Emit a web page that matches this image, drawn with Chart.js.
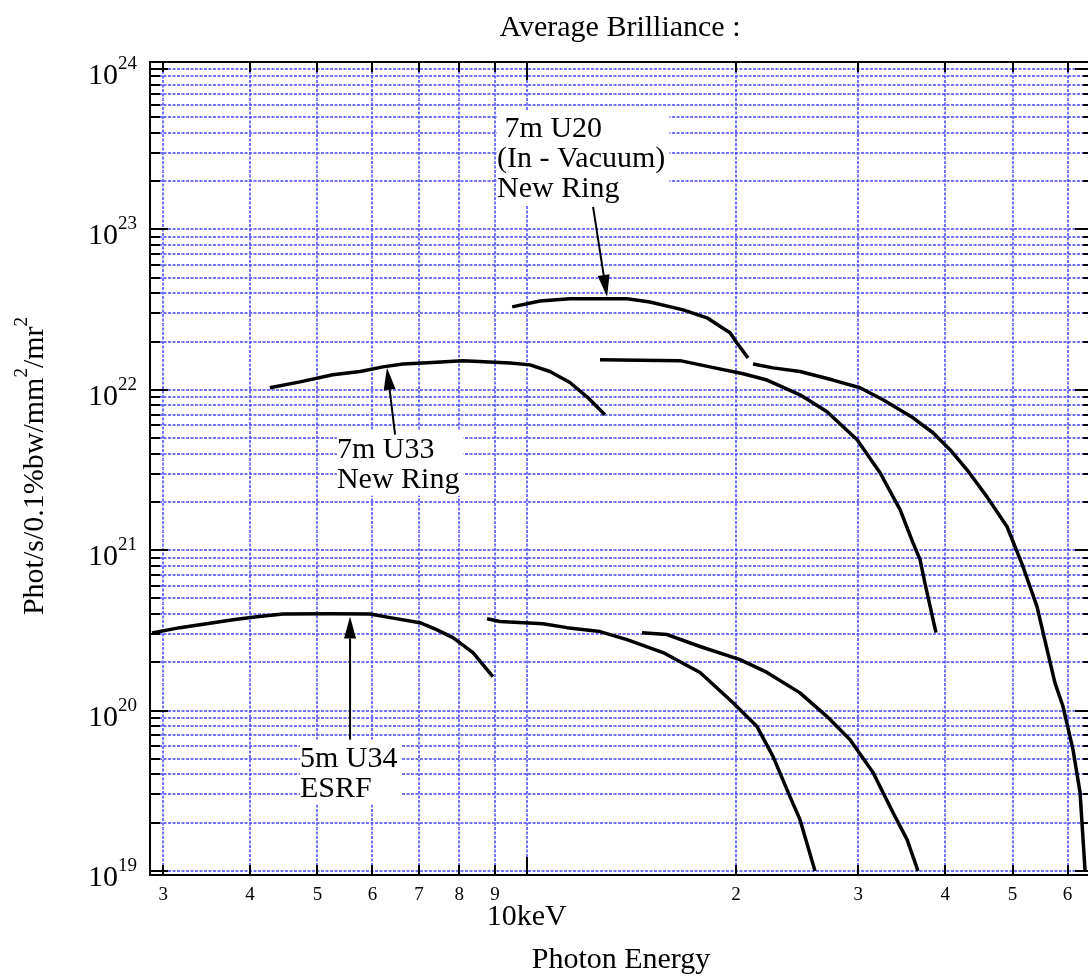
<!DOCTYPE html>
<html>
<head>
<meta charset="utf-8">
<title>Average Brilliance</title>
<script src="https://cdn.jsdelivr.net/npm/chart.js@4.4.1/dist/chart.umd.min.js"></script>
<style>
  html, body { margin: 0; padding: 0; background: #fff; overflow: hidden; }
  canvas { display: block; }
</style>
</head>
<body>
<canvas id="chart" width="1100" height="977"></canvas>
<script>
// ---- Undulator brilliance curves: photon energy (keV) vs average brilliance ----
// 5m U34, ESRF: fundamental, 3rd and 5th harmonic
const esrfU34H1Energy = [2.89, 3.17, 3.54, 3.78, 4.09, 4.46, 5.21, 5.95, 6.36, 7.02, 7.42, 7.83, 8.37, 8.94];
const esrfU34H1Bril   = [3.05e20, 3.29e20, 3.53e20, 3.69e20, 3.85e20, 4.0e20, 4.02e20, 4.0e20, 3.8e20, 3.53e20, 3.2e20, 2.85e20, 2.3e20, 1.63e20];
const esrfU34H3Energy = [8.77, 9.15, 10.55, 11.43, 12.75, 13.94, 15.71, 17.76, 19.81, 21.45, 22.62, 23.92, 24.73, 25.99];
const esrfU34H3Bril   = [3.74e20, 3.59e20, 3.48e20, 3.29e20, 3.11e20, 2.77e20, 2.3e20, 1.73e20, 1.12e20, 7.95e19, 5.17e19, 2.91e19, 2.09e19, 1.0e19];
const esrfU34H5Energy = [14.65, 15.92, 17.76, 20.27, 22.17, 24.73, 27.05, 29.19, 31.5, 33.66, 35.26, 36.56];
const esrfU34H5Bril   = [3.06e20, 2.98e20, 2.51e20, 2.08e20, 1.73e20, 1.29e20, 9.18e19, 6.59e19, 4.11e19, 2.31e19, 1.57e19, 1.0e19];

// 7m U33, new ring: fundamental and 3rd harmonic
const ringU33H1Energy = [4.27, 4.72, 5.26, 5.76, 6.21, 6.64, 7.09, 8.1, 9.46, 10.11, 10.8, 11.54, 12.21, 12.96];
const ringU33H1Bril   = [1.03e22, 1.12e22, 1.24e22, 1.3e22, 1.39e22, 1.45e22, 1.47e22, 1.52e22, 1.47e22, 1.43e22, 1.3e22, 1.11e22, 9.04e21, 6.98e21];
const ringU33H3Energy = [12.75, 16.62, 18.35, 20.48, 22.17, 24.73, 27.05, 29.88, 32.24, 34.45, 35.96, 36.81, 37.42, 38.8];
const ringU33H3Bril   = [1.54e22, 1.52e22, 1.39e22, 1.26e22, 1.15e22, 9.31e21, 7.3e21, 4.88e21, 3.04e21, 1.79e21, 1.11e21, 8.73e20, 6.2e20, 3.06e20];

// 7m U20 in-vacuum, new ring: fundamental and 3rd harmonic
const ringU20H1Energy = [9.53, 10.45, 11.54, 13.94, 15.04, 16.79, 18.17, 19.61, 20.07, 20.82];
const ringU20H1Bril   = [3.29e22, 3.58e22, 3.69e22, 3.69e22, 3.53e22, 3.15e22, 2.81e22, 2.27e22, 1.96e22, 1.58e22];
const ringU20H3Energy = [21.17, 22.62, 24.73, 27.59, 30.17, 32.56, 35.96, 38.42, 40.65, 43.01, 45.95, 49.11, 51.77, 54.23, 56.07, 57.55, 59.11, 61.1, 62.54, 63.59];
const ringU20H3Bril   = [1.45e22, 1.37e22, 1.3e22, 1.15e22, 1.03e22, 8.67e21, 6.69e21, 5.4e21, 4.23e21, 3.17e21, 2.15e21, 1.4e21, 7.89e20, 4.45e20, 2.4e20, 1.49e20, 1.06e20, 5.71e19, 3.08e19, 1.0e19];

// Axis ticks
const energyTicks      = [3, 4, 5, 6, 7, 8, 9, 10, 20, 30, 40, 50, 60];
const energyTickLabels = ['3', '4', '5', '6', '7', '8', '9', '10keV', '2', '3', '4', '5', '6'];
const brilDecades      = [19, 20, 21, 22, 23, 24];

// Axis ranges
const energyMin = 2.871, energyMax = 65.28;
const brilMin = Math.pow(10, 18.9751), brilMax = Math.pow(10, 24.0436);

// Callout labels with arrows (anchors in data units)
const callouts = [
  { lines: [' 7m U20', '(In - Vacuum)', 'New Ring'], at: [9.065, 3.77e23], from: [12.46, 1.38e23], to: [13.05, 3.8e22] },
  { lines: ['7m U33', 'New Ring'],                   at: [5.333, 3.77e21], from: [6.466, 5.25e21], to: [6.295, 1.37e22] },
  { lines: ['5m U34', 'ESRF'],                       at: [4.718, 4.48e19], from: [5.57, 6.59e19],  to: [5.57, 3.86e20] }
];

const SERIF = '"Liberation Serif", "Times New Roman", Times, serif';
const GRID_COLOR = 'rgba(80, 80, 255, 0.8)';

const segments = [
  ['5m U34 ESRF (1)', esrfU34H1Energy, esrfU34H1Bril],
  ['5m U34 ESRF (3)', esrfU34H3Energy, esrfU34H3Bril],
  ['5m U34 ESRF (5)', esrfU34H5Energy, esrfU34H5Bril],
  ['7m U33 New Ring (1)', ringU33H1Energy, ringU33H1Bril],
  ['7m U33 New Ring (3)', ringU33H3Energy, ringU33H3Bril],
  ['7m U20 New Ring (1)', ringU20H1Energy, ringU20H1Bril],
  ['7m U20 New Ring (3)', ringU20H3Energy, ringU20H3Bril]
];

const datasets = segments.map(([label, e, b]) => ({
  label,
  data: e.map((x, i) => ({ x, y: b[i] })),
  showLine: true,
  borderColor: '#000',
  borderWidth: 3.5,
  borderJoinStyle: 'round',
  pointRadius: 0,
  fill: false,
  tension: 0
}));

const yGridValues = [];
brilDecades.forEach(n => {
  const top = n === brilDecades[brilDecades.length - 1] ? 1 : 9;
  for (let k = 1; k <= top; k++) yGridValues.push(k * Math.pow(10, n));
});

function drawArrow(ctx, x1, y1, x2, y2) {
  const ang = Math.atan2(y2 - y1, x2 - x1);
  const hl = 22, hw = 6;
  const bx = x2 - hl * Math.cos(ang), by = y2 - hl * Math.sin(ang);
  ctx.beginPath();
  ctx.moveTo(x1, y1);
  ctx.lineTo(bx, by);
  ctx.lineWidth = 2;
  ctx.strokeStyle = '#000';
  ctx.stroke();
  ctx.beginPath();
  ctx.moveTo(x2, y2);
  ctx.lineTo(bx + hw * Math.sin(ang), by - hw * Math.cos(ang));
  ctx.lineTo(bx - hw * Math.sin(ang), by + hw * Math.cos(ang));
  ctx.closePath();
  ctx.fillStyle = '#000';
  ctx.fill();
}

// Draws a run of [text, isSuperscript] pieces starting at x along a baseline
function drawRuns(ctx, runs, x, y, size, supSize, supRise) {
  ctx.textAlign = 'left';
  runs.forEach(([t, sup]) => {
    ctx.font = (sup ? supSize : size) + 'px ' + SERIF;
    ctx.fillText(t, x, sup ? y - supRise : y);
    x += ctx.measureText(t).width;
  });
}
function runsWidth(ctx, runs, size, supSize) {
  let w = 0;
  runs.forEach(([t, sup]) => {
    ctx.font = (sup ? supSize : size) + 'px ' + SERIF;
    w += ctx.measureText(t).width;
  });
  return w;
}

const decor = {
  id: 'decor',
  beforeDatasetsDraw(chart) {
    const { ctx, scales: { x, y } } = chart;
    ctx.save();
    ctx.font = '30px ' + SERIF;
    ctx.textBaseline = 'alphabetic';
    callouts.forEach(c => {
      const px = x.getPixelForValue(c.at[0]);
      const py = y.getPixelForValue(c.at[1]);
      const w = Math.max(...c.lines.map(l => ctx.measureText(l).width));
      const lastBase = py + 30 * (c.lines.length - 1);
      ctx.fillStyle = '#fff';
      ctx.fillRect(px, py - 27, w + 4, lastBase + 8 - (py - 27));
      ctx.fillStyle = '#000';
      ctx.textAlign = 'left';
      c.lines.forEach((l, i) => ctx.fillText(l, px, py + 30 * i));
    });
    ctx.restore();
  },
  afterDatasetsDraw(chart) {
    const { ctx, chartArea: a, scales: { x, y } } = chart;
    ctx.save();
    // arrows
    callouts.forEach(c => {
      drawArrow(ctx,
        x.getPixelForValue(c.from[0]), y.getPixelForValue(c.from[1]),
        x.getPixelForValue(c.to[0]), y.getPixelForValue(c.to[1]));
    });

    // frame
    ctx.strokeStyle = '#000';
    ctx.lineWidth = 2;
    ctx.strokeRect(a.left, a.top, a.right - a.left, a.bottom - a.top);

    // inward tick marks
    ctx.beginPath();
    energyTicks.forEach(v => {
      const px = Math.round(x.getPixelForValue(v));
      const len = Math.abs(Math.log10(v) % 1) < 1e-9 ? 18 : 10;
      ctx.moveTo(px, a.bottom); ctx.lineTo(px, a.bottom - len);
      ctx.moveTo(px, a.top); ctx.lineTo(px, a.top + len);
    });
    yGridValues.forEach(v => {
      const py = Math.round(y.getPixelForValue(v));
      const len = Math.abs(Math.log10(v) - Math.round(Math.log10(v))) < 1e-9 ? 18 : 10;
      ctx.moveTo(a.left, py); ctx.lineTo(a.left + len, py);
      ctx.moveTo(a.right, py); ctx.lineTo(a.right - len, py);
    });
    ctx.stroke();

    // energy tick labels
    ctx.fillStyle = '#000';
    ctx.textAlign = 'center';
    ctx.textBaseline = 'alphabetic';
    energyTicks.forEach((v, i) => {
      const px = x.getPixelForValue(v);
      if (v === 10) {
        ctx.font = '30px ' + SERIF;
        ctx.fillText(energyTickLabels[i], px, a.bottom + 50);
      } else {
        ctx.font = '19px ' + SERIF;
        ctx.fillText(energyTickLabels[i], px, a.bottom + 25);
      }
    });

    // brilliance decade labels 10^n
    brilDecades.forEach(n => {
      const py = y.getPixelForValue(Math.pow(10, n));
      const runs = [['10', false], [String(n), true]];
      const w = runsWidth(ctx, runs, 30, 19);
      drawRuns(ctx, runs, a.left - 13 - w, py + 15, 30, 19, 15);
    });

    // titles
    ctx.font = '30px ' + SERIF;
    ctx.textAlign = 'center';
    ctx.fillText('Average Brilliance :', 620, 36);
    ctx.fillText('Photon Energy', 621, 968);

    // vertical axis title
    const yRuns = [['Phot/s/0.1%bw/mm', false], ['2', true], ['/mr', false], ['2', true]];
    ctx.translate(43, 466);
    ctx.rotate(-Math.PI / 2);
    const yw = runsWidth(ctx, yRuns, 30, 19);
    drawRuns(ctx, yRuns, -yw / 2, 0, 30, 19, 16);
    ctx.restore();
  }
};

new Chart(document.getElementById('chart'), {
  type: 'scatter',
  data: { datasets },
  options: {
    responsive: false,
    devicePixelRatio: 1,
    animation: false,
    events: [],
    layout: { padding: { left: 150, top: 62, right: 7, bottom: 102 } },
    plugins: { legend: { display: false }, tooltip: { enabled: false }, title: { display: false } },
    scales: {
      x: {
        type: 'logarithmic',
        min: energyMin, max: energyMax,
        bounds: 'data',
        afterBuildTicks: s => { s.ticks = energyTicks.map(v => ({ value: v })); },
        afterFit: s => { s.height = 0; },
        ticks: { display: false },
        grid: { color: GRID_COLOR, lineWidth: 2, drawTicks: false },
        border: { display: false, dash: [3, 1.5] }
      },
      y: {
        type: 'logarithmic',
        min: brilMin, max: brilMax,
        bounds: 'data',
        afterBuildTicks: s => { s.ticks = yGridValues.map(v => ({ value: v })); },
        afterFit: s => { s.width = 0; },
        ticks: { display: false },
        grid: { color: GRID_COLOR, lineWidth: 2, drawTicks: false },
        border: { display: false, dash: [3, 1.5] }
      }
    }
  },
  plugins: [decor]
});
</script>
</body>
</html>
